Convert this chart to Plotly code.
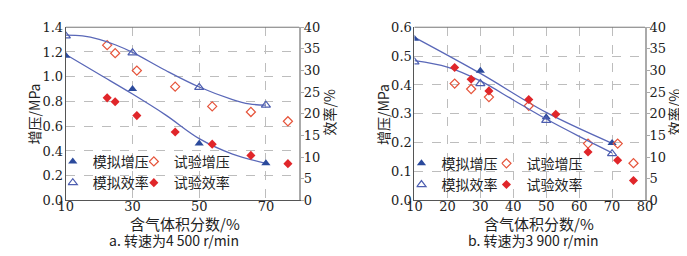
import plotly.graph_objects as go

# ---------------- data: panel a (4 500 r/min) ----------------
a_sim_x = [10, 30, 50, 70]
a_sim_p = [1.17, 0.90, 0.46, 0.30]
a_sim_eff = [38.0, 34.1, 26.1, 22.0]
a_exp_x = [22.4, 24.8, 31.3, 42.8, 53.9, 65.5, 76.6]
a_exp_p = [1.255, 1.19, 1.05, 0.92, 0.76, 0.715, 0.64]
a_exp_eff = [23.7, 22.8, 19.6, 15.8, 13.0, 10.4, 8.5]
a_fitp_x = [10, 20, 30, 40, 50, 60, 70]
a_fitp_y = [1.18, 1.02, 0.86, 0.69, 0.50, 0.375, 0.30]
a_fite_x = [10, 15, 20, 25, 30, 40, 50, 60, 65, 70]
a_fite_y = [38.2, 38.0, 37.2, 35.9, 34.2, 30.0, 26.2, 23.3, 22.3, 22.0]

# ---------------- data: panel b (3 900 r/min) ----------------
b_sim_x = [10, 30, 50, 70]
b_sim_p = [0.56, 0.449, 0.288, 0.199]
b_sim_eff = [32.0, 27.0, 18.5, 10.8]
b_exp_x = [22.2, 27.2, 32.6, 44.7, 62.7, 71.7, 76.5]
b_exp_p = [0.405, 0.386, 0.358, 0.328, 0.197, 0.197, 0.129]
b_expe_x = [22.2, 27.2, 32.6, 44.7, 52.9, 62.7, 71.7, 76.5]
b_exp_eff = [30.7, 28.0, 25.3, 23.3, 19.9, 11.2, 9.3, 4.6]
b_fitp_x = [10, 30, 50, 70]
b_fitp_y = [0.565, 0.44, 0.305, 0.198]
b_fite_x = [10, 20, 30, 40, 50, 60, 70]
b_fite_y = [32.3, 30.8, 27.6, 23.2, 18.8, 14.8, 11.0]

names = ["模拟增压", "模拟效率", "试验增压", "试验效率"]
a_xticks = [10, 30, 50, 70]
b_xticks = [10, 20, 30, 40, 50, 60, 70, 80]

W, H = 687, 256
FONT = "DejaVu Serif"
CJK = "Noto Sans CJK SC"
BLUE_F = "#2B4A9C"
BLUE_O = "#4D5EB0"
LINE = "#5A68B8"
RED_F = "#E0262A"
RED_O = "#E6553C"

def px(x):
    return x / W

def py(y):
    return 1 - y / H

fig = go.Figure()

def add_panel(xa, ya, ya2, leg1, leg2, sx, sp, se, ex, ep, ex2, ee, fpx, fpy, fex, fey):
    fig.add_trace(go.Scatter(x=fpx, y=fpy, mode="lines", line=dict(color=LINE, width=1.3, shape="spline"),
                             xaxis=xa, yaxis=ya, showlegend=False, hoverinfo="skip"))
    fig.add_trace(go.Scatter(x=fex, y=fey, mode="lines", line=dict(color=LINE, width=1.3, shape="spline"),
                             xaxis=xa, yaxis=ya2, showlegend=False, hoverinfo="skip"))
    fig.add_trace(go.Scatter(x=sx, y=sp, mode="markers", name=names[0], legend=leg1, legendgroup=leg1 + "a",
                             marker=dict(symbol="triangle-up", size=8, color=BLUE_F, line=dict(width=0)),
                             xaxis=xa, yaxis=ya))
    fig.add_trace(go.Scatter(x=sx, y=se, mode="markers", name=names[1], legend=leg1, legendgroup=leg1 + "b",
                             marker=dict(symbol="triangle-up-open", size=8, color=BLUE_O, line=dict(width=1.2)),
                             xaxis=xa, yaxis=ya2))
    fig.add_trace(go.Scatter(x=ex, y=ep, mode="markers", name=names[2], legend=leg2, legendgroup=leg2 + "a",
                             marker=dict(symbol="diamond-open", size=7, color=RED_O, line=dict(width=1.2)),
                             xaxis=xa, yaxis=ya))
    fig.add_trace(go.Scatter(x=ex2, y=ee, mode="markers", name=names[3], legend=leg2, legendgroup=leg2 + "b",
                             marker=dict(symbol="diamond", size=7, color=RED_F, line=dict(width=0)),
                             xaxis=xa, yaxis=ya2))

add_panel("x", "y", "y2", "legend", "legend2", a_sim_x, a_sim_p, a_sim_eff, a_exp_x, a_exp_p, a_exp_x, a_exp_eff,
          a_fitp_x, a_fitp_y, a_fite_x, a_fite_y)
add_panel("x2", "y3", "y4", "legend3", "legend4", b_sim_x, b_sim_p, b_sim_eff, b_exp_x, b_exp_p, b_expe_x, b_exp_eff,
          b_fitp_x, b_fitp_y, b_fite_x, b_fite_y)

TOP, BOT = 13, 197
ydom = [py(BOT), py(TOP)]
grid = dict(showgrid=True, gridcolor="#bdbdbd", griddash="dash", gridwidth=1)
tickfont = dict(family=FONT, size=13, color="#222")

def xaxis(dom, ticks, anchor):
    return dict(domain=dom, range=[10, 80], tickvals=ticks, anchor=anchor, zeroline=False,
                showline=True, linecolor="#555", linewidth=1.2, mirror=False, ticks="",
                tickfont=tickfont, ticklabelstandoff=-6, **grid)

def yleft(dom, rng, dt, anchor):
    return dict(domain=dom, range=rng, dtick=dt, tick0=0, anchor=anchor, zeroline=False,
                showline=True, linecolor="#555", linewidth=1.2, ticks="",
                tickfont=tickfont, tickformat=".1f", ticklabelstandoff=-1, **grid)

def yright(over, anchor):
    return dict(overlaying=over, side="right", range=[0, 40], dtick=5, tick0=0, anchor=anchor,
                showgrid=False, zeroline=False, showline=True, linecolor="#aaa", linewidth=2,
                ticks="outside", ticklen=3, tickcolor="#aaa",
                tickfont=tickfont, ticklabelstandoff=-3)

fig.update_layout(
    width=W, height=H, margin=dict(l=0, r=0, t=0, b=0),
    paper_bgcolor="white", plot_bgcolor="white", font=dict(family=FONT, size=14, color="#222"),
    xaxis=xaxis([px(51), px(290)], a_xticks, "y"),
    yaxis=yleft(ydom, [0, 1.4], 0.2, "x"),
    yaxis2=yright("y", "x"),
    xaxis2=xaxis([px(408), px(644)], b_xticks, "y3"),
    yaxis3=yleft(ydom, [0, 0.6], 0.1, "x2"),
    yaxis4=yright("y3", "x2"),
)

# top border lines
for xr in [(51, 290), (408, 644)]:
    fig.add_shape(type="line", xref="paper", yref="paper", x0=px(xr[0]), x1=px(xr[1]), y0=py(TOP), y1=py(TOP),
                  line=dict(color="#777", width=1))

# white boxes behind legends (hide gridlines)
for (x0, x1, y0, y1) in [(54, 221, 147, 195), (412, 583, 149, 195)]:
    fig.add_shape(type="rect", xref="paper", yref="paper", x0=px(x0), x1=px(x1), y0=py(y1), y1=py(y0),
                  fillcolor="white", line=dict(width=0), layer="between")

legstyle = dict(bgcolor="rgba(0,0,0,0)", borderwidth=0, font=dict(family=CJK, size=14, color="#222"),
                xanchor="left", yanchor="top", tracegroupgap=0, itemwidth=30, orientation="v",
                indentation=-15)
fig.update_layout(
    legend=dict(x=px(53), y=py(139), **legstyle),
    legend2=dict(x=px(136), y=py(139), **legstyle),
    legend3=dict(x=px(410), y=py(141), **legstyle),
    legend4=dict(x=px(497), y=py(141), **legstyle),
)

def ann(text, x, y, angle=0, size=14, fam=CJK):
    fig.add_annotation(text=text, xref="paper", yref="paper", x=px(x), y=py(y), showarrow=False,
                       textangle=angle, font=dict(family=fam, size=size, color="#222"),
                       xanchor="center", yanchor="middle")

ann("含气体积分数/%", 173, 221, size=15)
ann("a. 转速为4 500 r/min", 162, 239)
ann("含气体积分数/%", 535, 221, size=15)
ann("b. 转速为3 900 r/min", 530, 239)
ann("增压/MPa", 18, 105, -90)
ann("效率/%", 320, 104, -90)
ann("增压/MPa", 376, 106, -90)
ann("效率/%", 674, 103, -90)

fig.write_html("out.html")
